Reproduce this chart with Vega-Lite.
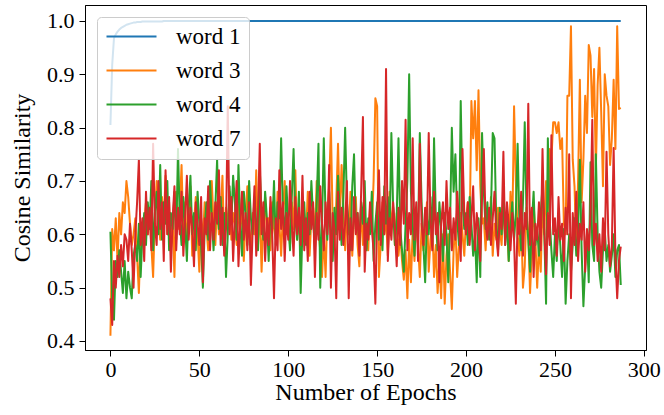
{
  "$schema": "https://vega.github.io/schema/vega-lite/v6.json",
  "width": 561,
  "height": 345,
  "autosize": {"type": "none"},
  "padding": {"left": 85, "top": 5, "right": 18, "bottom": 65},
  "background": "white",
  "data": {
    "values": [
      {"e":0,"word 1":0.805,"word 3":0.41,"word 4":0.605,"word 7":0.48},
      {"e":1,"word 1":0.918,"word 3":0.61,"word 4":0.48,"word 7":0.43},
      {"e":2,"word 1":0.968,"word 3":0.57,"word 4":0.44,"word 7":0.55},
      {"e":3,"word 1":0.975,"word 3":0.63,"word 4":0.55,"word 7":0.50},
      {"e":4,"word 1":0.980,"word 3":0.55,"word 4":0.52,"word 7":0.56},
      {"e":5,"word 1":0.984,"word 3":0.64,"word 4":0.57,"word 7":0.52},
      {"e":6,"word 1":0.987,"word 3":0.60,"word 4":0.53,"word 7":0.58},
      {"e":7,"word 1":0.989,"word 3":0.66,"word 4":0.49,"word 7":0.54},
      {"e":8,"word 1":0.991,"word 3":0.64,"word 4":0.55,"word 7":0.60},
      {"e":9,"word 1":0.993,"word 3":0.70,"word 4":0.48,"word 7":0.59},
      {"e":10,"word 1":0.994,"word 3":0.67,"word 4":0.53,"word 7":0.55},
      {"e":11,"word 1":0.995,"word 3":0.62,"word 4":0.50,"word 7":0.62},
      {"e":12,"word 1":0.996,"word 3":0.58,"word 4":0.48,"word 7":0.57},
      {"e":13,"word 1":0.997,"word 3":0.60,"word 4":0.56,"word 7":0.50},
      {"e":14,"word 1":0.997,"word 3":0.63,"word 4":0.58,"word 7":0.60},
      {"e":15,"word 1":0.998,"word 3":0.56,"word 4":0.55,"word 7":0.66},
      {"e":16,"word 1":0.998,"word 3":0.49,"word 4":0.62,"word 7":0.74},
      {"e":17,"word 1":0.998,"word 3":0.60,"word 4":0.52,"word 7":0.58},
      {"e":18,"word 1":0.999,"word 3":0.58,"word 4":0.60,"word 7":0.63},
      {"e":19,"word 1":0.999,"word 3":0.62,"word 4":0.64,"word 7":0.55},
      {"e":20,"word 1":0.999,"word 3":0.66,"word 4":0.58,"word 7":0.68},
      {"e":21,"word 1":0.999,"word 3":0.60,"word 4":0.66,"word 7":0.60},
      {"e":22,"word 1":0.999,"word 3":0.64,"word 4":0.61,"word 7":0.65},
      {"e":23,"word 1":0.999,"word 3":0.58,"word 4":0.70,"word 7":0.57},
      {"e":24,"word 1":0.999,"word 3":0.52,"word 4":0.57,"word 7":0.77},
      {"e":25,"word 1":0.999,"word 3":0.63,"word 4":0.64,"word 7":0.62},
      {"e":26,"word 1":0.999,"word 3":0.70,"word 4":0.68,"word 7":0.58},
      {"e":27,"word 1":0.999,"word 3":0.64,"word 4":0.60,"word 7":0.70},
      {"e":28,"word 1":0.999,"word 3":0.59,"word 4":0.73,"word 7":0.61},
      {"e":29,"word 1":0.999,"word 3":0.67,"word 4":0.59,"word 7":0.66},
      {"e":30,"word 1":1.0,"word 3":0.62,"word 4":0.66,"word 7":0.55},
      {"e":31,"word 1":1.0,"word 3":0.71,"word 4":0.62,"word 7":0.72},
      {"e":32,"word 1":1.0,"word 3":0.60,"word 4":0.70,"word 7":0.60},
      {"e":33,"word 1":1.0,"word 3":0.66,"word 4":0.57,"word 7":0.67},
      {"e":34,"word 1":1.0,"word 3":0.57,"word 4":0.64,"word 7":0.53},
      {"e":35,"word 1":1.0,"word 3":0.63,"word 4":0.61,"word 7":0.63},
      {"e":36,"word 1":1.0,"word 3":0.52,"word 4":0.68,"word 7":0.69},
      {"e":37,"word 1":1.0,"word 3":0.68,"word 4":0.59,"word 7":0.57},
      {"e":38,"word 1":1.0,"word 3":0.61,"word 4":0.76,"word 7":0.65},
      {"e":39,"word 1":1.0,"word 3":0.65,"word 4":0.63,"word 7":0.60},
      {"e":40,"word 1":1.0,"word 3":0.73,"word 4":0.58,"word 7":0.68},
      {"e":41,"word 1":1.0,"word 3":0.60,"word 4":0.67,"word 7":0.56},
      {"e":42,"word 1":1.0,"word 3":0.66,"word 4":0.62,"word 7":0.63},
      {"e":43,"word 1":1.0,"word 3":0.58,"word 4":0.55,"word 7":0.71},
      {"e":44,"word 1":1.0,"word 3":0.64,"word 4":0.65,"word 7":0.59},
      {"e":45,"word 1":1.0,"word 3":0.69,"word 4":0.71,"word 7":0.65},
      {"e":46,"word 1":1.0,"word 3":0.56,"word 4":0.60,"word 7":0.61},
      {"e":47,"word 1":1.0,"word 3":0.62,"word 4":0.64,"word 7":0.54},
      {"e":48,"word 1":1.0,"word 3":0.67,"word 4":0.57,"word 7":0.66},
      {"e":49,"word 1":1.0,"word 3":0.60,"word 4":0.68,"word 7":0.62},
      {"e":50,"word 1":1.0,"word 3":0.53,"word 4":0.62,"word 7":0.58},
      {"e":51,"word 1":1.0,"word 3":0.63,"word 4":0.58,"word 7":0.67},
      {"e":52,"word 1":1.0,"word 3":0.59,"word 4":0.50,"word 7":0.51},
      {"e":53,"word 1":1.0,"word 3":0.66,"word 4":0.61,"word 7":0.63},
      {"e":54,"word 1":1.0,"word 3":0.61,"word 4":0.66,"word 7":0.60},
      {"e":55,"word 1":1.0,"word 3":0.57,"word 4":0.59,"word 7":0.69},
      {"e":56,"word 1":1.0,"word 3":0.64,"word 4":0.70,"word 7":0.57},
      {"e":57,"word 1":1.0,"word 3":0.70,"word 4":0.63,"word 7":0.64},
      {"e":58,"word 1":1.0,"word 3":0.62,"word 4":0.57,"word 7":0.59},
      {"e":59,"word 1":1.0,"word 3":0.58,"word 4":0.65,"word 7":0.66},
      {"e":60,"word 1":1.0,"word 3":0.66,"word 4":0.74,"word 7":0.62},
      {"e":61,"word 1":1.0,"word 3":0.60,"word 4":0.61,"word 7":0.72},
      {"e":62,"word 1":1.0,"word 3":0.63,"word 4":0.67,"word 7":0.58},
      {"e":63,"word 1":1.0,"word 3":0.71,"word 4":0.58,"word 7":0.65},
      {"e":64,"word 1":1.0,"word 3":0.57,"word 4":0.64,"word 7":0.56},
      {"e":65,"word 1":1.0,"word 3":0.65,"word 4":0.52,"word 7":0.61},
      {"e":66,"word 1":1.0,"word 3":0.61,"word 4":0.60,"word 7":0.84},
      {"e":67,"word 1":1.0,"word 3":0.68,"word 4":0.69,"word 7":0.60},
      {"e":68,"word 1":1.0,"word 3":0.59,"word 4":0.62,"word 7":0.67},
      {"e":69,"word 1":1.0,"word 3":0.64,"word 4":0.71,"word 7":0.55},
      {"e":70,"word 1":1.0,"word 3":0.62,"word 4":0.66,"word 7":0.63},
      {"e":71,"word 1":1.0,"word 3":0.58,"word 4":0.59,"word 7":0.70},
      {"e":72,"word 1":1.0,"word 3":0.66,"word 4":0.73,"word 7":0.54},
      {"e":73,"word 1":1.0,"word 3":0.60,"word 4":0.62,"word 7":0.62},
      {"e":74,"word 1":1.0,"word 3":0.67,"word 4":0.56,"word 7":0.68},
      {"e":75,"word 1":1.0,"word 3":0.55,"word 4":0.68,"word 7":0.59},
      {"e":76,"word 1":1.0,"word 3":0.63,"word 4":0.64,"word 7":0.64},
      {"e":77,"word 1":1.0,"word 3":0.69,"word 4":0.58,"word 7":0.57},
      {"e":78,"word 1":1.0,"word 3":0.61,"word 4":0.70,"word 7":0.66},
      {"e":79,"word 1":1.0,"word 3":0.57,"word 4":0.63,"word 7":0.505},
      {"e":80,"word 1":1.0,"word 3":0.64,"word 4":0.60,"word 7":0.61},
      {"e":81,"word 1":1.0,"word 3":0.60,"word 4":0.67,"word 7":0.69},
      {"e":82,"word 1":1.0,"word 3":0.72,"word 4":0.62,"word 7":0.56},
      {"e":83,"word 1":1.0,"word 3":0.58,"word 4":0.57,"word 7":0.64},
      {"e":84,"word 1":1.0,"word 3":0.65,"word 4":0.72,"word 7":0.77},
      {"e":85,"word 1":1.0,"word 3":0.53,"word 4":0.64,"word 7":0.60},
      {"e":86,"word 1":1.0,"word 3":0.62,"word 4":0.59,"word 7":0.66},
      {"e":87,"word 1":1.0,"word 3":0.67,"word 4":0.68,"word 7":0.55},
      {"e":88,"word 1":1.0,"word 3":0.60,"word 4":0.63,"word 7":0.63},
      {"e":89,"word 1":1.0,"word 3":0.63,"word 4":0.55,"word 7":0.58},
      {"e":90,"word 1":1.0,"word 3":0.57,"word 4":0.65,"word 7":0.67},
      {"e":91,"word 1":1.0,"word 3":0.66,"word 4":0.61,"word 7":0.60},
      {"e":92,"word 1":1.0,"word 3":0.61,"word 4":0.70,"word 7":0.48},
      {"e":93,"word 1":1.0,"word 3":0.59,"word 4":0.58,"word 7":0.63},
      {"e":94,"word 1":1.0,"word 3":0.68,"word 4":0.66,"word 7":0.57},
      {"e":95,"word 1":1.0,"word 3":0.62,"word 4":0.63,"word 7":0.72},
      {"e":96,"word 1":1.0,"word 3":0.56,"word 4":0.78,"word 7":0.61},
      {"e":97,"word 1":1.0,"word 3":0.64,"word 4":0.64,"word 7":0.66},
      {"e":98,"word 1":1.0,"word 3":0.70,"word 4":0.60,"word 7":0.55},
      {"e":99,"word 1":1.0,"word 3":0.60,"word 4":0.69,"word 7":0.64},
      {"e":100,"word 1":1.0,"word 3":0.63,"word 4":0.62,"word 7":0.59},
      {"e":101,"word 1":1.0,"word 3":0.58,"word 4":0.57,"word 7":0.70},
      {"e":102,"word 1":1.0,"word 3":0.66,"word 4":0.67,"word 7":0.62},
      {"e":103,"word 1":1.0,"word 3":0.61,"word 4":0.76,"word 7":0.56},
      {"e":104,"word 1":1.0,"word 3":0.72,"word 4":0.63,"word 7":0.67},
      {"e":105,"word 1":1.0,"word 3":0.59,"word 4":0.59,"word 7":0.60},
      {"e":106,"word 1":1.0,"word 3":0.64,"word 4":0.68,"word 7":0.65},
      {"e":107,"word 1":1.0,"word 3":0.57,"word 4":0.49,"word 7":0.58},
      {"e":108,"word 1":1.0,"word 3":0.67,"word 4":0.61,"word 7":0.71},
      {"e":109,"word 1":1.0,"word 3":0.62,"word 4":0.66,"word 7":0.57},
      {"e":110,"word 1":1.0,"word 3":0.60,"word 4":0.58,"word 7":0.63},
      {"e":111,"word 1":1.0,"word 3":0.68,"word 4":0.64,"word 7":0.55},
      {"e":112,"word 1":1.0,"word 3":0.56,"word 4":0.60,"word 7":0.68},
      {"e":113,"word 1":1.0,"word 3":0.63,"word 4":0.70,"word 7":0.61},
      {"e":114,"word 1":1.0,"word 3":0.65,"word 4":0.63,"word 7":0.66},
      {"e":115,"word 1":1.0,"word 3":0.59,"word 4":0.57,"word 7":0.52},
      {"e":116,"word 1":1.0,"word 3":0.70,"word 4":0.66,"word 7":0.64},
      {"e":117,"word 1":1.0,"word 3":0.61,"word 4":0.77,"word 7":0.59},
      {"e":118,"word 1":1.0,"word 3":0.57,"word 4":0.50,"word 7":0.69},
      {"e":119,"word 1":1.0,"word 3":0.52,"word 4":0.62,"word 7":0.62},
      {"e":120,"word 1":1.0,"word 3":0.60,"word 4":0.78,"word 7":0.57},
      {"e":121,"word 1":1.0,"word 3":0.52,"word 4":0.63,"word 7":0.66},
      {"e":122,"word 1":1.0,"word 3":0.64,"word 4":0.59,"word 7":0.60},
      {"e":123,"word 1":1.0,"word 3":0.69,"word 4":0.68,"word 7":0.73},
      {"e":124,"word 1":1.0,"word 3":0.80,"word 4":0.61,"word 7":0.50},
      {"e":125,"word 1":1.0,"word 3":0.62,"word 4":0.55,"word 7":0.64},
      {"e":126,"word 1":1.0,"word 3":0.58,"word 4":0.65,"word 7":0.61},
      {"e":127,"word 1":1.0,"word 3":0.66,"word 4":0.60,"word 7":0.48},
      {"e":128,"word 1":1.0,"word 3":0.77,"word 4":0.71,"word 7":0.68},
      {"e":129,"word 1":1.0,"word 3":0.63,"word 4":0.64,"word 7":0.59},
      {"e":130,"word 1":1.0,"word 3":0.73,"word 4":0.58,"word 7":0.65},
      {"e":131,"word 1":1.0,"word 3":0.65,"word 4":0.67,"word 7":0.58},
      {"e":132,"word 1":1.0,"word 3":0.57,"word 4":0.80,"word 7":0.62},
      {"e":133,"word 1":1.0,"word 3":0.64,"word 4":0.66,"word 7":0.70},
      {"e":134,"word 1":1.0,"word 3":0.60,"word 4":0.62,"word 7":0.48},
      {"e":135,"word 1":1.0,"word 3":0.68,"word 4":0.57,"word 7":0.63},
      {"e":136,"word 1":1.0,"word 3":0.56,"word 4":0.69,"word 7":0.57},
      {"e":137,"word 1":1.0,"word 3":0.63,"word 4":0.75,"word 7":0.67},
      {"e":138,"word 1":1.0,"word 3":0.67,"word 4":0.61,"word 7":0.60},
      {"e":139,"word 1":1.0,"word 3":0.58,"word 4":0.64,"word 7":0.64},
      {"e":140,"word 1":1.0,"word 3":0.54,"word 4":0.58,"word 7":0.56},
      {"e":141,"word 1":1.0,"word 3":0.66,"word 4":0.66,"word 7":0.68},
      {"e":142,"word 1":1.0,"word 3":0.58,"word 4":0.62,"word 7":0.82},
      {"e":143,"word 1":1.0,"word 3":0.64,"word 4":0.70,"word 7":0.53},
      {"e":144,"word 1":1.0,"word 3":0.60,"word 4":0.57,"word 7":0.62},
      {"e":145,"word 1":1.0,"word 3":0.57,"word 4":0.63,"word 7":0.59},
      {"e":146,"word 1":1.0,"word 3":0.65,"word 4":0.60,"word 7":0.66},
      {"e":147,"word 1":1.0,"word 3":0.61,"word 4":0.68,"word 7":0.61},
      {"e":148,"word 1":1.0,"word 3":0.70,"word 4":0.55,"word 7":0.57},
      {"e":149,"word 1":1.0,"word 3":0.855,"word 4":0.62,"word 7":0.47},
      {"e":150,"word 1":1.0,"word 3":0.84,"word 4":0.66,"word 7":0.64},
      {"e":151,"word 1":1.0,"word 3":0.52,"word 4":0.59,"word 7":0.72},
      {"e":152,"word 1":1.0,"word 3":0.58,"word 4":0.64,"word 7":0.58},
      {"e":153,"word 1":1.0,"word 3":0.66,"word 4":0.57,"word 7":0.67},
      {"e":154,"word 1":1.0,"word 3":0.60,"word 4":0.69,"word 7":0.60},
      {"e":155,"word 1":1.0,"word 3":0.63,"word 4":0.62,"word 7":0.91},
      {"e":156,"word 1":1.0,"word 3":0.56,"word 4":0.67,"word 7":0.55},
      {"e":157,"word 1":1.0,"word 3":0.68,"word 4":0.60,"word 7":0.63},
      {"e":158,"word 1":1.0,"word 3":0.61,"word 4":0.79,"word 7":0.59},
      {"e":159,"word 1":1.0,"word 3":0.65,"word 4":0.65,"word 7":0.66},
      {"e":160,"word 1":1.0,"word 3":0.58,"word 4":0.58,"word 7":0.61},
      {"e":161,"word 1":1.0,"word 3":0.64,"word 4":0.63,"word 7":0.54},
      {"e":162,"word 1":1.0,"word 3":0.56,"word 4":0.78,"word 7":0.65},
      {"e":163,"word 1":1.0,"word 3":0.60,"word 4":0.61,"word 7":0.58},
      {"e":164,"word 1":1.0,"word 3":0.55,"word 4":0.57,"word 7":0.70},
      {"e":165,"word 1":1.0,"word 3":0.515,"word 4":0.53,"word 7":0.62},
      {"e":166,"word 1":1.0,"word 3":0.57,"word 4":0.62,"word 7":0.815},
      {"e":167,"word 1":1.0,"word 3":0.48,"word 4":0.70,"word 7":0.57},
      {"e":168,"word 1":1.0,"word 3":0.59,"word 4":0.90,"word 7":0.64},
      {"e":169,"word 1":1.0,"word 3":0.51,"word 4":0.68,"word 7":0.60},
      {"e":170,"word 1":1.0,"word 3":0.61,"word 4":0.62,"word 7":0.78},
      {"e":171,"word 1":1.0,"word 3":0.55,"word 4":0.56,"word 7":0.59},
      {"e":172,"word 1":1.0,"word 3":0.64,"word 4":0.64,"word 7":0.66},
      {"e":173,"word 1":1.0,"word 3":0.58,"word 4":0.60,"word 7":0.55},
      {"e":174,"word 1":1.0,"word 3":0.52,"word 4":0.79,"word 7":0.77},
      {"e":175,"word 1":1.0,"word 3":0.62,"word 4":0.66,"word 7":0.62},
      {"e":176,"word 1":1.0,"word 3":0.57,"word 4":0.58,"word 7":0.58},
      {"e":177,"word 1":1.0,"word 3":0.60,"word 4":0.51,"word 7":0.65},
      {"e":178,"word 1":1.0,"word 3":0.66,"word 4":0.63,"word 7":0.60},
      {"e":179,"word 1":1.0,"word 3":0.53,"word 4":0.60,"word 7":0.79},
      {"e":180,"word 1":1.0,"word 3":0.59,"word 4":0.67,"word 7":0.63},
      {"e":181,"word 1":1.0,"word 3":0.62,"word 4":0.58,"word 7":0.57},
      {"e":182,"word 1":1.0,"word 3":0.52,"word 4":0.78,"word 7":0.68},
      {"e":183,"word 1":1.0,"word 3":0.58,"word 4":0.63,"word 7":0.60},
      {"e":184,"word 1":1.0,"word 3":0.49,"word 4":0.57,"word 7":0.64},
      {"e":185,"word 1":1.0,"word 3":0.55,"word 4":0.66,"word 7":0.51},
      {"e":186,"word 1":1.0,"word 3":0.48,"word 4":0.61,"word 7":0.62},
      {"e":187,"word 1":1.0,"word 3":0.60,"word 4":0.55,"word 7":0.66},
      {"e":188,"word 1":1.0,"word 3":0.47,"word 4":0.64,"word 7":0.58},
      {"e":189,"word 1":1.0,"word 3":0.56,"word 4":0.60,"word 7":0.70},
      {"e":190,"word 1":1.0,"word 3":0.60,"word 4":0.51,"word 7":0.61},
      {"e":191,"word 1":1.0,"word 3":0.53,"word 4":0.62,"word 7":0.65},
      {"e":192,"word 1":1.0,"word 3":0.46,"word 4":0.80,"word 7":0.57},
      {"e":193,"word 1":1.0,"word 3":0.57,"word 4":0.68,"word 7":0.63},
      {"e":194,"word 1":1.0,"word 3":0.62,"word 4":0.75,"word 7":0.59},
      {"e":195,"word 1":1.0,"word 3":0.52,"word 4":0.63,"word 7":0.68},
      {"e":196,"word 1":1.0,"word 3":0.58,"word 4":0.58,"word 7":0.62},
      {"e":197,"word 1":1.0,"word 3":0.64,"word 4":0.85,"word 7":0.55},
      {"e":198,"word 1":1.0,"word 3":0.60,"word 4":0.66,"word 7":0.76},
      {"e":199,"word 1":1.0,"word 3":0.56,"word 4":0.61,"word 7":0.64},
      {"e":200,"word 1":1.0,"word 3":0.63,"word 4":0.64,"word 7":0.60},
      {"e":201,"word 1":1.0,"word 3":0.66,"word 4":0.58,"word 7":0.66},
      {"e":202,"word 1":1.0,"word 3":0.60,"word 4":0.67,"word 7":0.58},
      {"e":203,"word 1":1.0,"word 3":0.85,"word 4":0.62,"word 7":0.63},
      {"e":204,"word 1":1.0,"word 3":0.78,"word 4":0.56,"word 7":0.69},
      {"e":205,"word 1":1.0,"word 3":0.85,"word 4":0.60,"word 7":0.57},
      {"e":206,"word 1":1.0,"word 3":0.72,"word 4":0.51,"word 7":0.64},
      {"e":207,"word 1":1.0,"word 3":0.87,"word 4":0.63,"word 7":0.61},
      {"e":208,"word 1":1.0,"word 3":0.69,"word 4":0.52,"word 7":0.55},
      {"e":209,"word 1":1.0,"word 3":0.62,"word 4":0.79,"word 7":0.67},
      {"e":210,"word 1":1.0,"word 3":0.63,"word 4":0.68,"word 7":0.76},
      {"e":211,"word 1":1.0,"word 3":0.57,"word 4":0.61,"word 7":0.62},
      {"e":212,"word 1":1.0,"word 3":0.64,"word 4":0.66,"word 7":0.59},
      {"e":213,"word 1":1.0,"word 3":0.60,"word 4":0.59,"word 7":0.65},
      {"e":214,"word 1":1.0,"word 3":0.67,"word 4":0.64,"word 7":0.58},
      {"e":215,"word 1":1.0,"word 3":0.56,"word 4":0.79,"word 7":0.63},
      {"e":216,"word 1":1.0,"word 3":0.62,"word 4":0.78,"word 7":0.68},
      {"e":217,"word 1":1.0,"word 3":0.59,"word 4":0.62,"word 7":0.60},
      {"e":218,"word 1":1.0,"word 3":0.65,"word 4":0.57,"word 7":0.56},
      {"e":219,"word 1":1.0,"word 3":0.61,"word 4":0.65,"word 7":0.64},
      {"e":220,"word 1":1.0,"word 3":0.58,"word 4":0.60,"word 7":0.61},
      {"e":221,"word 1":1.0,"word 3":0.66,"word 4":0.67,"word 7":0.755},
      {"e":222,"word 1":1.0,"word 3":0.60,"word 4":0.58,"word 7":0.58},
      {"e":223,"word 1":1.0,"word 3":0.63,"word 4":0.63,"word 7":0.66},
      {"e":224,"word 1":1.0,"word 3":0.55,"word 4":0.55,"word 7":0.62},
      {"e":225,"word 1":1.0,"word 3":0.68,"word 4":0.61,"word 7":0.57},
      {"e":226,"word 1":1.0,"word 3":0.61,"word 4":0.66,"word 7":0.64},
      {"e":227,"word 1":1.0,"word 3":0.84,"word 4":0.59,"word 7":0.59},
      {"e":228,"word 1":1.0,"word 3":0.70,"word 4":0.64,"word 7":0.47},
      {"e":229,"word 1":1.0,"word 3":0.60,"word 4":0.77,"word 7":0.63},
      {"e":230,"word 1":1.0,"word 3":0.56,"word 4":0.62,"word 7":0.60},
      {"e":231,"word 1":1.0,"word 3":0.63,"word 4":0.57,"word 7":0.68},
      {"e":232,"word 1":1.0,"word 3":0.50,"word 4":0.66,"word 7":0.56},
      {"e":233,"word 1":1.0,"word 3":0.54,"word 4":0.81,"word 7":0.64},
      {"e":234,"word 1":1.0,"word 3":0.65,"word 4":0.64,"word 7":0.61},
      {"e":235,"word 1":1.0,"word 3":0.60,"word 4":0.59,"word 7":0.845},
      {"e":236,"word 1":1.0,"word 3":0.49,"word 4":0.53,"word 7":0.58},
      {"e":237,"word 1":1.0,"word 3":0.57,"word 4":0.62,"word 7":0.65},
      {"e":238,"word 1":1.0,"word 3":0.66,"word 4":0.68,"word 7":0.52},
      {"e":239,"word 1":1.0,"word 3":0.59,"word 4":0.58,"word 7":0.62},
      {"e":240,"word 1":1.0,"word 3":0.50,"word 4":0.61,"word 7":0.59},
      {"e":241,"word 1":1.0,"word 3":0.58,"word 4":0.56,"word 7":0.66},
      {"e":242,"word 1":1.0,"word 3":0.53,"word 4":0.64,"word 7":0.57},
      {"e":243,"word 1":1.0,"word 3":0.66,"word 4":0.69,"word 7":0.76},
      {"e":244,"word 1":1.0,"word 3":0.60,"word 4":0.60,"word 7":0.61},
      {"e":245,"word 1":1.0,"word 3":0.70,"word 4":0.47,"word 7":0.525},
      {"e":246,"word 1":1.0,"word 3":0.64,"word 4":0.78,"word 7":0.64},
      {"e":247,"word 1":1.0,"word 3":0.76,"word 4":0.63,"word 7":0.58},
      {"e":248,"word 1":1.0,"word 3":0.74,"word 4":0.57,"word 7":0.786},
      {"e":249,"word 1":1.0,"word 3":0.81,"word 4":0.52,"word 7":0.60},
      {"e":250,"word 1":1.0,"word 3":0.81,"word 4":0.60,"word 7":0.63},
      {"e":251,"word 1":1.0,"word 3":0.79,"word 4":0.55,"word 7":0.56},
      {"e":252,"word 1":1.0,"word 3":0.81,"word 4":0.63,"word 7":0.67},
      {"e":253,"word 1":1.0,"word 3":0.76,"word 4":0.58,"word 7":0.59},
      {"e":254,"word 1":1.0,"word 3":0.78,"word 4":0.52,"word 7":0.62},
      {"e":255,"word 1":1.0,"word 3":0.62,"word 4":0.61,"word 7":0.55},
      {"e":256,"word 1":1.0,"word 3":0.60,"word 4":0.47,"word 7":0.65},
      {"e":257,"word 1":1.0,"word 3":0.86,"word 4":0.55,"word 7":0.60},
      {"e":258,"word 1":1.0,"word 3":0.86,"word 4":0.60,"word 7":0.75},
      {"e":259,"word 1":1.0,"word 3":0.99,"word 4":0.53,"word 7":0.48},
      {"e":260,"word 1":1.0,"word 3":0.74,"word 4":0.58,"word 7":0.64},
      {"e":261,"word 1":1.0,"word 3":0.69,"word 4":0.63,"word 7":0.58},
      {"e":262,"word 1":1.0,"word 3":0.57,"word 4":0.56,"word 7":0.68},
      {"e":263,"word 1":1.0,"word 3":0.70,"word 4":0.60,"word 7":0.55},
      {"e":264,"word 1":1.0,"word 3":0.89,"word 4":0.74,"word 7":0.62},
      {"e":265,"word 1":1.0,"word 3":0.66,"word 4":0.57,"word 7":0.59},
      {"e":266,"word 1":1.0,"word 3":0.74,"word 4":0.465,"word 7":0.66},
      {"e":267,"word 1":1.0,"word 3":0.86,"word 4":0.54,"word 7":0.53},
      {"e":268,"word 1":1.0,"word 3":0.79,"word 4":0.60,"word 7":0.61},
      {"e":269,"word 1":1.0,"word 3":0.955,"word 4":0.51,"word 7":0.57},
      {"e":270,"word 1":1.0,"word 3":0.935,"word 4":0.735,"word 7":0.64},
      {"e":271,"word 1":1.0,"word 3":0.82,"word 4":0.58,"word 7":0.815},
      {"e":272,"word 1":1.0,"word 3":0.91,"word 4":0.55,"word 7":0.58},
      {"e":273,"word 1":1.0,"word 3":0.72,"word 4":0.75,"word 7":0.62},
      {"e":274,"word 1":1.0,"word 3":0.88,"word 4":0.60,"word 7":0.55},
      {"e":275,"word 1":1.0,"word 3":0.95,"word 4":0.53,"word 7":0.60},
      {"e":276,"word 1":1.0,"word 3":0.83,"word 4":0.50,"word 7":0.53},
      {"e":277,"word 1":1.0,"word 3":0.69,"word 4":0.57,"word 7":0.63},
      {"e":278,"word 1":1.0,"word 3":0.90,"word 4":0.61,"word 7":0.57},
      {"e":279,"word 1":1.0,"word 3":0.86,"word 4":0.55,"word 7":0.755},
      {"e":280,"word 1":1.0,"word 3":0.84,"word 4":0.58,"word 7":0.60},
      {"e":281,"word 1":1.0,"word 3":0.73,"word 4":0.53,"word 7":0.54},
      {"e":282,"word 1":1.0,"word 3":0.78,"word 4":0.56,"word 7":0.58},
      {"e":283,"word 1":1.0,"word 3":0.89,"word 4":0.60,"word 7":0.762},
      {"e":284,"word 1":1.0,"word 3":0.76,"word 4":0.52,"word 7":0.56},
      {"e":285,"word 1":1.0,"word 3":0.99,"word 4":0.57,"word 7":0.48},
      {"e":286,"word 1":1.0,"word 3":0.835,"word 4":0.58,"word 7":0.55},
      {"e":287,"word 1":1.0,"word 3":0.837,"word 4":0.505,"word 7":0.577}
    ]
  },
  "transform": [
    {"fold": ["word 1", "word 3", "word 4", "word 7"], "as": ["series", "value"]}
  ],
  "mark": {"type": "line", "strokeWidth": 2, "strokeJoin": "round", "clip": true},
  "encoding": {
    "x": {
      "field": "e",
      "type": "quantitative",
      "scale": {"domain": [-14.3, 301.2], "nice": false, "zero": false},
      "axis": {
        "title": "Number of Epochs",
        "values": [0, 50, 100, 150, 200, 250, 300],
        "labelFont": "Liberation Serif",
        "labelPadding": 3,
        "titleBaseline": "alphabetic",
        "titleY": 49
      }
    },
    "y": {
      "field": "value",
      "type": "quantitative",
      "scale": {"domain": [0.3831, 1.03], "nice": false, "zero": false},
      "axis": {
        "title": "Cosine Similarity",
        "values": [0.4, 0.5, 0.6, 0.7, 0.8, 0.9, 1.0],
        "format": ".1f",
        "labelFont": "Liberation Serif",
        "labelPadding": 5,
        "titleBaseline": "alphabetic",
        "titleX": -56
      }
    },
    "color": {
      "field": "series",
      "type": "nominal",
      "scale": {
        "domain": ["word 1", "word 3", "word 4", "word 7"],
        "range": ["#1f77b4", "#ff7f0e", "#2ca02c", "#d62728"]
      },
      "legend": {
        "title": null,
        "orient": "none",
        "legendX": 12,
        "legendY": 12,
        "symbolType": "M-1,0H4",
        "symbolSize": 400,
        "symbolStrokeWidth": 2,
        "labelOffset": 48,
        "labelFont": "Liberation Serif",
        "rowPadding": 10,
        "padding": 8,
        "fillColor": "rgba(255,255,255,0.8)",
        "strokeColor": "#cccccc",
        "cornerRadius": 4
      }
    }
  },
  "config": {
    "font": "Liberation Serif",
    "view": {"stroke": "black", "strokeWidth": 1},
    "style": {"guide-label": {"font": "Liberation Serif"}, "guide-title": {"font": "Liberation Serif"}},
    "axis": {
      "grid": false,
      "domainColor": "black",
      "tickColor": "black",
      "tickSize": 6,
      "labelFont": "Liberation Serif",
      "labelFontSize": 22,
      "labelColor": "black",
      "titleFont": "Liberation Serif",
      "titleFontSize": 24,
      "titleFontWeight": "normal",
      "titleColor": "black"
    },
    "legend": {
      "labelFont": "Liberation Serif",
      "labelFontSize": 23,
      "labelColor": "black",
      "labelLimit": 300
    }
  }
}
